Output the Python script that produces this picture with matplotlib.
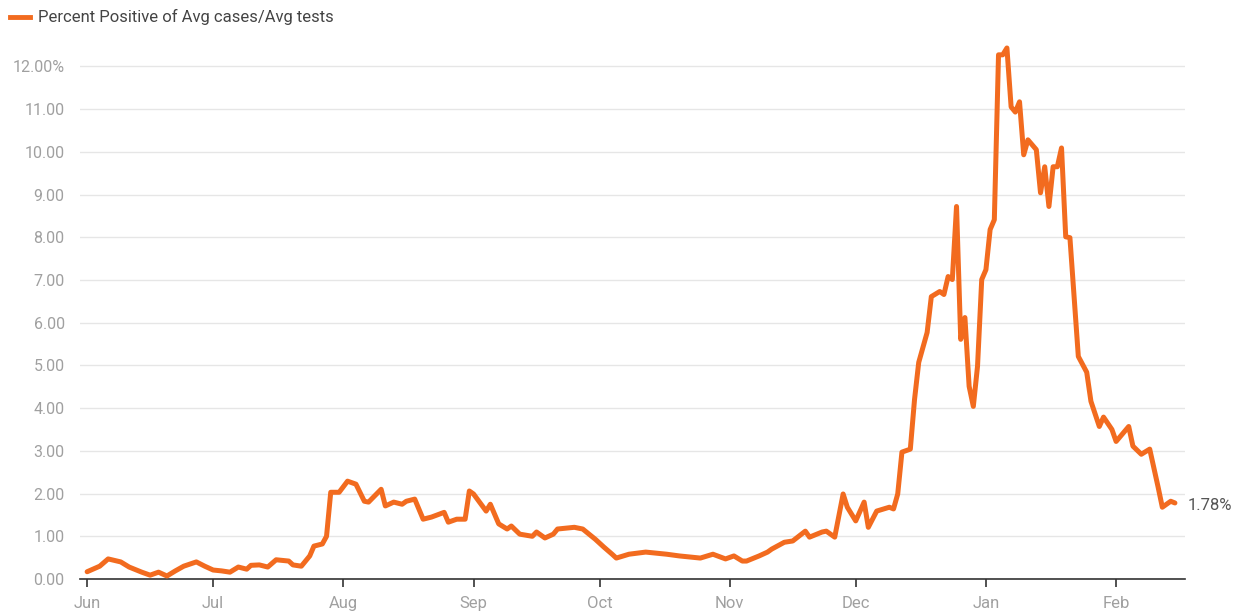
import datetime as dt
import matplotlib
matplotlib.use("Agg")
from matplotlib import pyplot as plt
from matplotlib.lines import Line2D

# day offsets from 1 Jun 2020 and percent positive values
days = [0, 3, 5, 8, 10, 13, 15, 17, 19, 21, 23, 26, 28, 30, 32, 34, 36, 38, 39, 41,
        43, 45, 48, 49, 51, 53, 54, 56, 57, 58, 60, 62, 64, 66, 67, 70, 71, 73, 75, 76,
        78, 80, 82, 85, 86, 88, 90, 91, 92, 95, 96, 98, 100, 101, 103, 106, 107, 109, 111, 112,
        116, 118, 121, 123, 125, 126, 129, 133, 138, 141, 146, 149, 152, 154, 156, 157, 160, 162, 163, 166,
        168, 171, 172, 175, 176, 178, 180, 181, 183, 185, 186, 188, 191, 192, 193, 194, 196, 197, 198, 200,
        201, 203, 204, 205, 206, 207, 208, 209, 210, 211, 212, 213, 214, 215, 216, 217, 218, 219, 220, 221,
        222, 223, 224, 226, 227, 228, 229, 230, 231, 232, 233, 234, 236, 238, 239, 241, 242, 244, 245, 248,
        249, 251, 253, 255, 256, 258, 259]
values = [0.17, 0.30, 0.47, 0.40, 0.28, 0.16, 0.09, 0.16, 0.07, 0.19, 0.30, 0.40, 0.30, 0.21, 0.19, 0.16, 0.28, 0.23, 0.32, 0.33,
          0.28, 0.45, 0.42, 0.33, 0.30, 0.54, 0.77, 0.82, 1.00, 2.03, 2.03, 2.29, 2.22, 1.82, 1.80, 2.10, 1.71, 1.80, 1.75, 1.82,
          1.87, 1.40, 1.45, 1.56, 1.33, 1.40, 1.40, 2.06, 1.99, 1.59, 1.75, 1.29, 1.17, 1.24, 1.05, 1.00, 1.10, 0.96, 1.05, 1.17,
          1.21, 1.17, 0.93, 0.75, 0.58, 0.49, 0.58, 0.63, 0.58, 0.54, 0.49, 0.58, 0.47, 0.54, 0.42, 0.42, 0.54, 0.63, 0.70, 0.86,
          0.89, 1.12, 0.98, 1.10, 1.12, 0.98, 1.99, 1.68, 1.36, 1.80, 1.21, 1.59, 1.68, 1.64, 1.99, 2.97, 3.04, 4.20, 5.07, 5.77,
          6.61, 6.73, 6.66, 7.08, 7.01, 8.72, 5.61, 6.12, 4.51, 4.04, 4.98, 7.01, 7.24, 8.18, 8.41, 12.27, 12.27, 12.43, 11.05, 10.93,
          11.17, 9.93, 10.28, 10.05, 9.04, 9.65, 8.72, 9.65, 9.65, 10.09, 8.01, 7.99, 5.21, 4.84, 4.16, 3.57, 3.79, 3.50, 3.22, 3.57,
          3.11, 2.92, 3.04, 2.15, 1.68, 1.82, 1.78]
start = dt.datetime(2020, 6, 1)
dates = [start + dt.timedelta(days=d) for d in days]

month_starts = [dt.datetime(2020, m, 1) for m in range(6, 13)] + [dt.datetime(2021, 1, 1), dt.datetime(2021, 2, 1)]
month_labels = ["Jun", "Jul", "Aug", "Sep", "Oct", "Nov", "Dec", "Jan", "Feb"]
yticks = list(range(0, 13))
ylabels = ["%.2f" % v for v in yticks]
ylabels[-1] = "12.00%"

orange = "#f26b1f"
grey = "#a0a0a0"

plt.rcParams["font.family"] = ["Roboto", "DejaVu Sans"]
fig = plt.figure(figsize=(12.4, 6.16), dpi=100)
ax = fig.add_axes([80 / 1240, 1 - 579 / 616, (1185 - 80) / 1240, (579 - 45) / 616])

ax.plot(dates, values, color=orange, lw=3.6, solid_joinstyle="round", solid_capstyle="round", zorder=3)

ax.set_ylim(0, 12.5)
ax.set_xlim(start - dt.timedelta(days=1.7), start + dt.timedelta(days=261.4))
ax.set_yticks(yticks)
ax.set_yticklabels(ylabels)
ax.set_xticks(month_starts)
ax.set_xticklabels(month_labels)
ax.grid(axis="y", color="#e6e6e6", lw=1)
ax.set_axisbelow(True)
for s in ["top", "right", "left"]:
    ax.spines[s].set_visible(False)
ax.spines["bottom"].set_color("#333333")
ax.spines["bottom"].set_linewidth(1.2)
ax.tick_params(axis="y", length=0, pad=11, labelsize=11.5, labelcolor=grey)
ax.tick_params(axis="x", length=6, width=1.2, color="#333333", pad=6, labelsize=12, labelcolor=grey)

ax.annotate("%.2f%%" % values[-1], xy=(dates[-1], values[-1]), xytext=(9, -2), textcoords="offset points",
            va="center", ha="left", fontsize=12, color="#555555")

# legend in the top-left corner
fig.add_artist(Line2D([10 / 1240, 30 / 1240], [1 - 17 / 616, 1 - 17 / 616], color=orange, lw=3.5, transform=fig.transFigure))
fig.text(38 / 1240, 1 - 17 / 616, "Percent Positive of Avg cases/Avg tests", va="center", ha="left", fontsize=12, color="#444444")

fig.savefig("out.png", dpi=100)
